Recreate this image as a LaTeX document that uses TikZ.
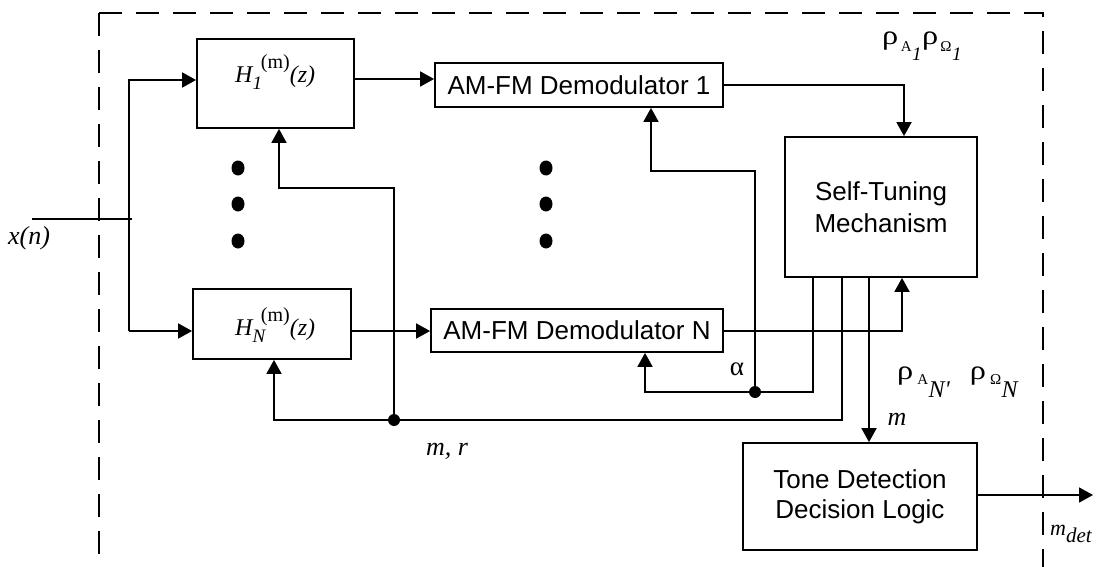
\documentclass[tikz,border=0pt]{standalone}
\usepackage{graphicx}
\usepackage{fontspec}
\setmainfont{Liberation Sans}
\newfontfamily\tms{Liberation Serif}
\usetikzlibrary{arrows.meta}
\newcommand\fs[1]{\fontsize{#1}{#1}\selectfont}
\newcommand\rh{\scalebox{1.2}[1]{\fs{27}ρ}}
\tikzset{
  blk/.style={draw, line width=1.8pt, inner sep=0pt, align=center, font=\fontsize{26}{31}\selectfont},
  wire/.style={line width=1.8pt},
  arr/.style={wire, -{Triangle[length=14pt,width=15pt]}},
  jdot/.style={circle, fill, inner sep=0pt, minimum size=12pt},
  lbl/.style={inner sep=0pt, font=\tms\fontsize{26}{30}\selectfont},
  border/.style={line width=1.8pt, dash pattern=on 23pt off 14pt},
}
\begin{document}
\begin{tikzpicture}[x=1pt,y=-1pt]
\useasboundingbox (0,0) rectangle (1097,567);
% frame
\draw[border] (99,13) -- (99,567);
\draw[border] (99,13) -- (1043,13) -- (1043,567);
% blocks
\node[blk, minimum width=157pt, minimum height=89pt] (h1) at (275.5,83.5) {};
\node[blk, minimum width=158pt, minimum height=70pt] (hN) at (272,324) {};
\node[blk, minimum width=288pt, minimum height=44pt] (d1) at (579,85) {AM-FM Demodulator 1};
\node[blk, minimum width=292pt, minimum height=43pt] (dN) at (577,330.5) {AM-FM Demodulator N};
\node[blk, minimum width=192pt, minimum height=140pt, font=\fontsize{26}{32}\selectfont] (st) at (881,207) {Self-Tuning\\Mechanism};
\node[blk, minimum width=234pt, minimum height=107pt, font=\fontsize{26}{30}\selectfont] (td) at (860,496.5) {Tone Detection\\Decision Logic};
% block labels
\node[lbl, anchor=base west] (h1t) at (235,83) {\fs{24}\itshape H\makebox[0pt][l]{\raisebox{-7pt}{\fs{19}1}}\kern8.4pt\raisebox{14pt}{\fs{20}\upshape (m)}(z)};
\node[lbl, anchor=base west] (hNt) at (235,335) {\fs{24}\itshape H\makebox[0pt][l]{\raisebox{-7pt}{\fs{19}N}}\kern8.4pt\raisebox{14pt}{\fs{20}\upshape (m)}(z)};
% dots
\foreach \yy in {168,204,241}{
  \fill (238,\yy) ellipse [x radius=6.5pt, y radius=7.5pt];
  \fill (546,\yy) ellipse [x radius=6.5pt, y radius=7.5pt];
}
% input
\coordinate (xin) at (32,219);
\coordinate (xend) at (132,219);
\coordinate (fa) at (129,80);
\coordinate (fb) at (129,331);
\draw[wire] (xin) -- (xend);
\draw[arr] (fb) -- (fa) -- (h1.west |- fa);
\draw[arr] (fb) -- (hN.west |- fb);
% filters to demodulators
\coordinate (r1) at (0,79);
\coordinate (rN) at (0,331);
\draw[arr] (h1.east |- r1) -- (d1.west |- r1);
\draw[arr] (hN.east |- rN) -- (dN.west |- rN);
% demodulators to self-tuning
\coordinate (t1) at (904,85);
\coordinate (tN) at (902,331);
\draw[arr] (d1.east |- t1) -- (t1) -- (t1 |- st.north);
\draw[arr] (dN.east |- tN) -- (tN) -- (tN |- st.south);
% alpha feedback
\coordinate (sa) at (813,392);
\coordinate (fbN) at (645,392);
\node[jdot] (ja) at (755,392) {};
\draw[arr] (sa |- st.south) -- (sa) -- (fbN) -- (fbN |- dN.south);
\coordinate (b1) at (755,171);
\coordinate (b2) at (651,171);
\draw[arr] (ja.center) -- (b1) -- (b2) -- (b2 |- d1.south);
% m, r feedback
\coordinate (sm) at (842,420);
\coordinate (fbH) at (274,420);
\node[jdot] (jm) at (394,420) {};
\draw[arr] (sm |- st.south) -- (sm) -- (fbH) -- (fbH |- hN.south);
\coordinate (c1) at (394,188);
\coordinate (c2) at (279,188);
\draw[arr] (jm.center) -- (c1) -- (c2) -- (c2 |- h1.south);
% m to tone detection
\coordinate (sd) at (869,0);
\draw[arr] (sd |- st.south) -- (sd |- td.north);
% output
\coordinate (out) at (1093,495);
\draw[arr] (td.east |- out) -- (out);
% labels
\node[lbl] (xn) at (29,238) {\itshape x(n)};
\node[lbl, anchor=base west] (rho1) at (882,44.5) {\rh\kern2.5pt\raisebox{-7.5pt}{\fs{15}A}\kern0.5pt\raisebox{-16.5pt}{\fs{19}\itshape 1}\kern0.5pt\rh\kern2pt\raisebox{-7.5pt}{\fs{15}Ω}\kern0.5pt\raisebox{-16.5pt}{\fs{19}\itshape 1}};
\node[lbl, anchor=base west] (rhoN) at (897,379) {\rh\kern4pt\raisebox{-5pt}{\fs{15}A}\kern0.5pt\raisebox{-18pt}{\fs{24}\itshape N'}\kern20pt\rh\kern4pt\raisebox{-5pt}{\fs{15}Ω}\kern0.5pt\raisebox{-18pt}{\fs{24}\itshape N}};
\node[lbl, font=\tms\fontsize{27}{27}\selectfont] (al) at (737,369) {α};
\node[lbl] (ml) at (897,419) {\itshape m};
\node[lbl] (mr) at (447,451) {\itshape m, r};
\node[lbl, anchor=base west] (mdet) at (1050,535) {\fs{22}\itshape m\raisebox{-7pt}{\fs{21}det}};
\end{tikzpicture}
\end{document}
